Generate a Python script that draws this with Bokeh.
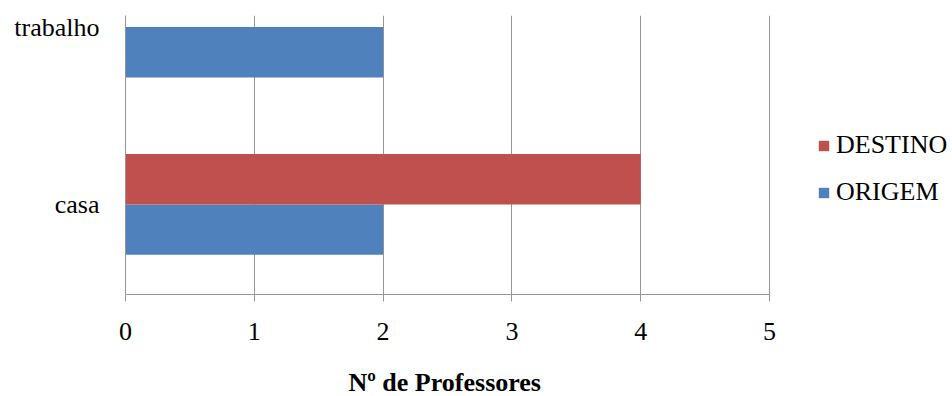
from bokeh.plotting import figure
from bokeh.models import (ColumnDataSource, Range1d, FixedTicker, Legend, LegendItem,
                          CustomJSTickFormatter, Title)
from bokeh.transform import dodge
from bokeh.embed import file_html
from bokeh.resources import INLINE

# ---- data ----
categories = ["casa", "trabalho"]
cat_pos = [0.5, 1.5]
origem = [2, 2]
destino = [4, 0]
series_names = ["DESTINO", "ORIGEM"]
x_ticks = [0, 1, 2, 3, 4, 5]
x_title = "Nº de Professores"

BLUE = "#4F81BD"
RED = "#C0504D"
FONT = "Liberation Serif"
FS = "26px"

# layout: plot area for 0..5 spans 644px; the frame extends to the right edge to host the legend
W, H = 952, 396
LEFT, TOP, BOTTOM = 125, 15, 99
AXIS_PX = 644
x_max = x_ticks[-1]
x_end = x_max * (W - LEFT) / AXIS_PX

src = ColumnDataSource(dict(cat=categories, y=cat_pos, origem=origem, destino=destino))

p = figure(width=W, height=H, output_backend="svg", toolbar_location=None,
           x_range=Range1d(0, x_end), y_range=Range1d(-0.008, 1.565),
           min_border_left=LEFT, min_border_right=0, min_border_top=TOP, min_border_bottom=BOTTOM,
           background_fill_color="white", border_fill_color="white")
p.outline_line_color = None

bh = 0.284
r_or = p.hbar(y=dodge("y", -bh / 2, range=p.y_range), right="origem", left=0, height=bh,
              source=src, fill_color=BLUE, line_color=None)
r_de = p.hbar(y=dodge("y", bh / 2, range=p.y_range), right="destino", left=0, height=bh,
              source=src, fill_color=RED, line_color=None)

# grid
p.ygrid.visible = False
p.xgrid.grid_line_color = "#969696"
p.xgrid.grid_line_width = 1
p.xgrid.ticker = FixedTicker(ticks=x_ticks)

# x axis
xa = p.xaxis[0]
xa.bounds = (0, x_max)
xa.ticker = FixedTicker(ticks=x_ticks)
xa.axis_line_color = "#969696"
xa.major_tick_line_color = "#969696"
xa.major_tick_out = 7
xa.major_tick_in = 0
xa.minor_tick_line_color = None
xa.major_label_text_font = FONT
xa.major_label_text_font_size = FS
xa.major_label_text_color = "black"
xa.major_label_standoff = 21
# tiny blank axis label used only as vertical spacing before the title
xa.axis_label = " "
xa.axis_label_text_font_size = "1px"
xa.axis_label_standoff = 19

# x-axis title, centred under the 0..5 span
xt = Title(text=x_title, align="left", offset=223, standoff=0,
           text_font=FONT, text_font_size=FS, text_font_style="bold", text_color="black")
p.add_layout(xt, "below")

# y axis
ya = p.yaxis[0]
ya.ticker = FixedTicker(ticks=cat_pos)
ya.formatter = CustomJSTickFormatter(args=dict(cats=categories, pos=cat_pos),
                                     code="const i = pos.indexOf(tick); return i >= 0 ? cats[i] : '';")
ya.axis_line_color = "#969696"
ya.major_tick_line_color = None
ya.major_tick_out = 0
ya.major_tick_in = 0
ya.minor_tick_line_color = None
ya.major_label_text_font = FONT
ya.major_label_text_font_size = FS
ya.major_label_text_color = "black"
ya.major_label_standoff = 26

legend = Legend(items=[LegendItem(label=series_names[0], renderers=[r_de]),
                       LegendItem(label=series_names[1], renderers=[r_or])],
                location=(692, 87), orientation="vertical",
                label_text_font=FONT, label_text_font_size=FS, label_text_color="black",
                glyph_width=13, glyph_height=13, label_height=30, label_standoff=6,
                spacing=17, padding=0, margin=0,
                border_line_color=None, background_fill_alpha=0)
p.add_layout(legend, "center")

open("out.html", "w").write(file_html(p, INLINE))
